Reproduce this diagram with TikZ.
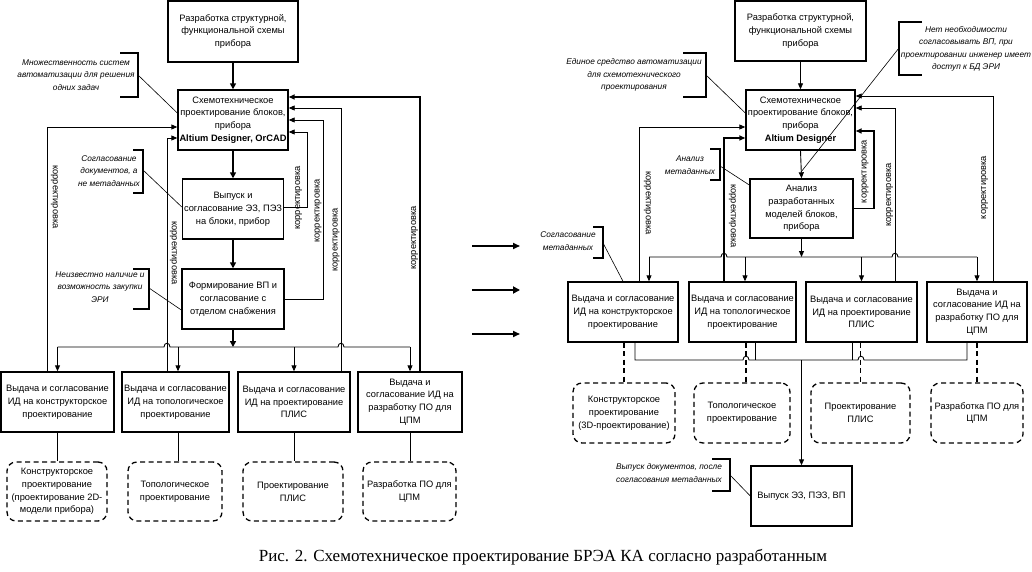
\documentclass[tikz,border=0pt]{standalone}
\usepackage{fontspec}
\setmainfont{Liberation Sans}
\newfontfamily\capfont{Liberation Serif}
\usetikzlibrary{arrows.meta,calc}
\begin{document}
\begin{tikzpicture}[x=1pt,y=-1pt,
 box/.style={draw, line width=1.4pt, align=center, inner sep=1pt, font=\fontsize{9.3}{12.8}\selectfont},
 dbox/.style={draw, line width=1.3pt, dash pattern=on 5pt off 3.5pt, rounded corners=9pt, align=center, inner sep=1pt, font=\fontsize{9.3}{12.8}\selectfont},
 ln/.style={line width=0.9pt},
 dln/.style={line width=1.3pt, dash pattern=on 5pt off 3.5pt},
 arr/.style={ln, -{Triangle[length=6pt,width=5pt]}},
 tarr/.style={line width=2.6pt, -{Triangle[length=6pt,width=6pt]}},
 lbl/.style={font=\fontsize{9.3}{11}\selectfont, inner sep=0pt},
 note/.style={font=\itshape\fontsize{8.3}{12.4}\selectfont, align=center, inner sep=0pt},
 brk/.style={line width=1.4pt},
]
\fill[white] (0,0) rectangle (1032,572);
\useasboundingbox (0,0) rectangle (1032,572);

%================ LEFT DIAGRAM =================
\node[box, minimum width=130pt, minimum height=61pt] (L0) at (233,31.5) {Разработка структурной,\\ функциональной схемы\\ прибора};
\node[box, minimum width=110pt, minimum height=60pt] (L1) at (233,120) {Схемотехническое\\ проектирование блоков,\\ прибора\\ \textbf{Altium Designer, OrCAD}};
\node[box, minimum width=101pt, minimum height=60pt] (L2) at (233,209) {Выпуск и\\ согласование ЭЗ, ПЭЗ\\ на блоки, прибор};
\node[box, minimum width=102pt, minimum height=60pt] (L3) at (233,299) {Формирование ВП и\\ согласование с\\ отделом снабжения};

\node[box, minimum width=113pt, minimum height=60pt] (B1) at (57.5,402) {Выдача и согласование\\ ИД на конструкторское\\ проектирование};
\node[box, minimum width=107pt, minimum height=60pt] (B2) at (175.5,402) {Выдача и согласование\\ ИД на топологическое\\ проектирование};
\node[box, minimum width=112pt, minimum height=60pt] (B3) at (294,402) {Выдача и согласование\\ ИД на проектирование\\ ПЛИС};
\node[box, minimum width=104pt, minimum height=60pt] (B4) at (410,402) {Выдача и\\ согласование ИД на\\ разработку ПО для\\ ЦПМ};

\node[dbox, minimum width=100pt, minimum height=59pt] (D1) at (57,491.5) {Конструкторское\\ проектирование\\ (проектирование 2D-\\ модели прибора)};
\node[dbox, minimum width=94pt, minimum height=59pt] (D2) at (175,491.5) {Топологическое\\ проектирование};
\node[dbox, minimum width=100pt, minimum height=59pt] (D3) at (293,491.5) {Проектирование\\ ПЛИС};
\node[dbox, minimum width=93pt, minimum height=59pt] (D4) at (409.5,491.5) {Разработка ПО для\\ ЦПМ};

\draw[tarr] (L0.south) -- (L1.north);
\draw[tarr] (L1.south) -- (L2.north);
\draw[tarr] (L2.south) -- (L3.north);
\coordinate (busL) at (233,347);
\draw[tarr] (L3.south) -- (busL);

\draw[ln] (B1.north |- busL) -- (164,347) .. controls (164,342) and (170,342) .. (170,347)
  -- (338,347) .. controls (338,342) and (344,342) .. (344,347) -- (B4.north |- busL);
\coordinate (b2x) at ([xshift=2.5pt]B2.north);
\draw[arr] (B1.north |- busL) -- (B1.north);
\draw[arr] (b2x |- busL) -- (b2x);
\draw[arr] (B3.north |- busL) -- (B3.north);
\draw[arr] (B4.north |- busL) -- (B4.north);

% feedback
\draw[arr] ([xshift=-10.5pt]B1.north) |- ([yshift=-7pt]L1.west);
\draw[arr] ([xshift=-8.5pt]B2.north) |- ([yshift=-18pt]L1.west);
\draw[arr] ([xshift=47pt]B3.north) |- ([yshift=12pt]L1.east);
\draw[arr, line width=1.8pt] ([xshift=10pt]B4.north) |- ([yshift=23pt]L1.east);
\draw[arr] ([yshift=2pt]L2.east) -- ++(23,0) |- ([yshift=-12pt]L1.east);
\draw[arr] (L3.east) -- ++(39,0) |- (L1.east);

\node[lbl, rotate=-90] (k1) at (54.5,197) {корректировка};
\node[lbl, rotate=-90] (k2) at (173.5,253) {корректировка};
\node[lbl, rotate=90] (k3) at (298.5,198) {корректировка};
\node[lbl, rotate=90] (k4) at (318,211) {корректировка};
\node[lbl, rotate=90] (k5) at (336,240) {корректировка};
\node[lbl, rotate=90] (k6) at (414.5,238) {корректировка};

\draw[ln] (B1.south) -- (B1.south |- D1.north);
\draw[ln] (b2x |- B2.south) -- (b2x |- D2.north);
\draw[ln] (B3.south) -- (B3.south |- D3.north);
\draw[ln] (B4.south) -- (B4.south |- D4.north);

% notes left
\node[note] (n1) at (76,75) {Множественность систем\\ автоматизации для решения\\ одних задач};
\draw[brk] (120,53) -- (138,53) -- (138,97) -- (120,97);
\coordinate (n1b) at (138,75);
\draw[ln, line width=0.6pt] (n1b) -- ([yshift=7pt]L1.west);

\node[note] (n2) at (109,171) {Согласование\\ документов, а\\ не метаданных};
\draw[brk] (133,150) -- (143,150) -- (143,193) -- (133,193);
\coordinate (n2b) at (143,170);
\draw[ln, line width=0.6pt] (n2b) -- ([yshift=2pt]L2.west);

\node[note] (n3) at (100,287) {Неизвестно наличие и\\ возможность закупки\\ ЭРИ};
\draw[brk] (133,269) -- (149,269) -- (149,309) -- (133,309);
\coordinate (n3b) at (149,288);
\draw[ln, line width=0.6pt] (n3b) -- ([yshift=-11pt]L3.west);

%================ MIDDLE ARROWS =================
\coordinate (m1a) at (472,246); \coordinate (m1b) at (520,246);
\coordinate (m2a) at (472,290); \coordinate (m2b) at (520,290);
\coordinate (m3a) at (472,334); \coordinate (m3b) at (520,334);
\draw[line width=1.6pt, -{Triangle[length=7pt,width=6pt]}] (m1a) -- (m1b);
\draw[line width=2.6pt, -{Triangle[length=7pt,width=7pt]}] (m2a) -- (m2b);
\draw[line width=1.6pt, -{Triangle[length=7pt,width=6pt]}] (m3a) -- (m3b);

%================ RIGHT DIAGRAM =================
\node[box, minimum width=131pt, minimum height=60pt] (R0) at (800.5,31) {Разработка структурной,\\ функциональной схемы\\ прибора};
\node[box, minimum width=109pt, minimum height=60pt] (R1) at (800.5,120) {Схемотехническое\\ проектирование блоков,\\ прибора\\ \textbf{Altium Designer}};
\node[box, minimum width=103pt, minimum height=59pt] (R2) at (801.5,208.5) {Анализ\\ разработанных\\ моделей блоков,\\ прибора};

\node[box, minimum width=110pt, minimum height=60pt] (RB1) at (623,312) {Выдача и согласование\\ ИД на конструкторское\\ проектирование};
\node[box, minimum width=107pt, minimum height=60pt] (RB2) at (742.5,312) {Выдача и согласование\\ ИД на топологическое\\ проектирование};
\node[box, minimum width=111pt, minimum height=60pt] (RB3) at (861.5,312) {Выдача и согласование\\ ИД на проектирование\\ ПЛИС};
\node[box, minimum width=100pt, minimum height=60pt] (RB4) at (977,312) {Выдача и\\ согласование ИД на\\ разработку ПО для\\ ЦПМ};

\node[dbox, minimum width=102pt, minimum height=60pt] (RD1) at (624,413) {Конструкторское\\ проектирование\\ (3D-проектирование)};
\node[dbox, minimum width=96pt, minimum height=60pt] (RD2) at (742,413) {Топологическое\\ проектирование};
\node[dbox, minimum width=99pt, minimum height=60pt] (RD3) at (860.5,413) {Проектирование\\ ПЛИС};
\node[dbox, minimum width=92pt, minimum height=60pt] (RD4) at (977,413) {Разработка ПО для\\ ЦПМ};

\node[box, minimum width=101pt, minimum height=60pt] (RV) at (801.5,496) {Выпуск ЭЗ, ПЭЗ, ВП};

\draw[arr] (R0.south) -- (R1.north);
\draw[arr] (R1.south) -- (R2.north);

\coordinate (busR) at (801.5,257);
\draw[arr] (R2.south) -- (busR);
\coordinate (r1x) at ([xshift=26pt]RB1.north);
\coordinate (r2x) at ([xshift=2.5pt]RB2.north);
\draw[ln] (r1x |- busR) -- (721,257) .. controls (721,252) and (727,252) .. (727,257)
  -- (892,257) .. controls (892,252) and (898,252) .. (898,257) -- (RB4.north |- busR);
\draw[arr] (r1x |- busR) -- (r1x);
\draw[arr] (r2x |- busR) -- (r2x);
\draw[arr] (RB3.north |- busR) -- (RB3.north);
\draw[arr] (RB4.north |- busR) -- (RB4.north);

% feedback right
\draw[arr] ([xshift=16pt]RB1.north) |- ([yshift=-7pt]R1.west);
\draw[arr, line width=1.8pt] ([xshift=-18.5pt]RB2.north) |- ([yshift=-18pt]R1.west);
\draw[arr] ([xshift=33.5pt]RB3.north) |- ([yshift=12pt]R1.east);
\draw[arr] ([xshift=16pt]RB4.north) |- ([yshift=24pt]R1.east);
\draw[arr, line width=1.8pt] (R2.east) -- ++(20,0) |- ([yshift=-11pt]R1.east);

\node[lbl, rotate=-90] (rk1) at (647.5,203) {корректировка};
\node[lbl, rotate=-90] (rk2) at (732.5,216) {корректировка};
\node[lbl, rotate=90] (rk3) at (865,171.5) {корректировка};
\node[lbl, rotate=90] (rk4) at (889.5,195) {корректировка};
\node[lbl, rotate=90] (rk5) at (984.5,187.5) {корректировка};

% lower bus right
\coordinate (bus2) at (801.5,360);
\coordinate (q1) at ([xshift=12pt]RB1.south);
\coordinate (q2) at ([xshift=12.5pt]RB2.south);
\coordinate (q3) at ([xshift=-9.5pt]RB3.south);
\coordinate (q4) at ([xshift=-10pt]RB4.south);
\draw[ln] (q1) -- (q1 |- bus2) -- (743,360) .. controls (743,355) and (749,355) .. (749,360)
  -- (858,360) .. controls (858,355) and (864,355) .. (864,360) -- (q4 |- bus2) -- (q4);
\draw[ln] (q2) -- (q2 |- bus2);
\draw[ln] (q3) -- (q3 |- bus2);
\draw[arr] (RV.north |- bus2) -- (RV.north);

\coordinate (d2x) at ([xshift=4pt]RD2.north);
\draw[dln] (RD1.north |- RB1.south) -- (RD1.north);
\draw[dln] (d2x |- RB2.south) -- (d2x);
\draw[dln] (RD3.north |- RB3.south) -- (RD3.north);
\draw[dln] (RD4.north |- RB4.south) -- (RD4.north);

% notes right
\node[note] (rn1) at (634,75) {Единое средство автоматизации\\ для схемотехнического\\ проектирования};
\draw[brk] (683,53) -- (706,53) -- (706,97) -- (683,97);
\coordinate (rn1b) at (706,75);
\draw[ln, line width=0.6pt] (rn1b) -- ([yshift=7pt]R1.west);

\node[note] (rn2) at (966,49) {Нет необходимости\\ согласовывать ВП, при\\ проектировании инженер имеет\\ доступ к БД ЭРИ};
\draw[brk] (922,22) -- (899,22) -- (899,75) -- (922,75);
\coordinate (rn2b) at (899,48);
\coordinate (rn2e) at (801,172);
\draw[ln, line width=0.6pt] (rn2b) -- (rn2e);

\node[note] (rn3) at (690,165) {Анализ\\ метаданных};
\draw[brk] (710,149) -- (720,149) -- (720,180) -- (710,180);
\coordinate (rn3b) at (720,166);
\draw[ln, line width=0.6pt] (rn3b) -- ([yshift=23.5pt]R2.west);

\node[note] (rn4) at (568,241) {Согласование\\ метаданных};
\draw[brk] (593,227) -- (603,227) -- (603,258) -- (593,258);
\coordinate (rn4b) at (603,243);
\draw[ln, line width=0.6pt] (rn4b) -- (RB1.north);

\node[note] (rn5) at (669,473) {Выпуск документов, после\\ согласования метаданных};
\draw[brk] (712,459) -- (730,459) -- (730,491) -- (712,491);
\coordinate (rn5b) at (730,475);
\draw[ln, line width=0.6pt] (rn5b) -- (RV.west);

% caption
\node[font=\capfont\fontsize{17}{20}\selectfont, inner sep=0pt] (cap) at (543,557) {Рис. 2. Схемотехническое проектирование БРЭА КА согласно разработанным};
\end{tikzpicture}
\end{document}
